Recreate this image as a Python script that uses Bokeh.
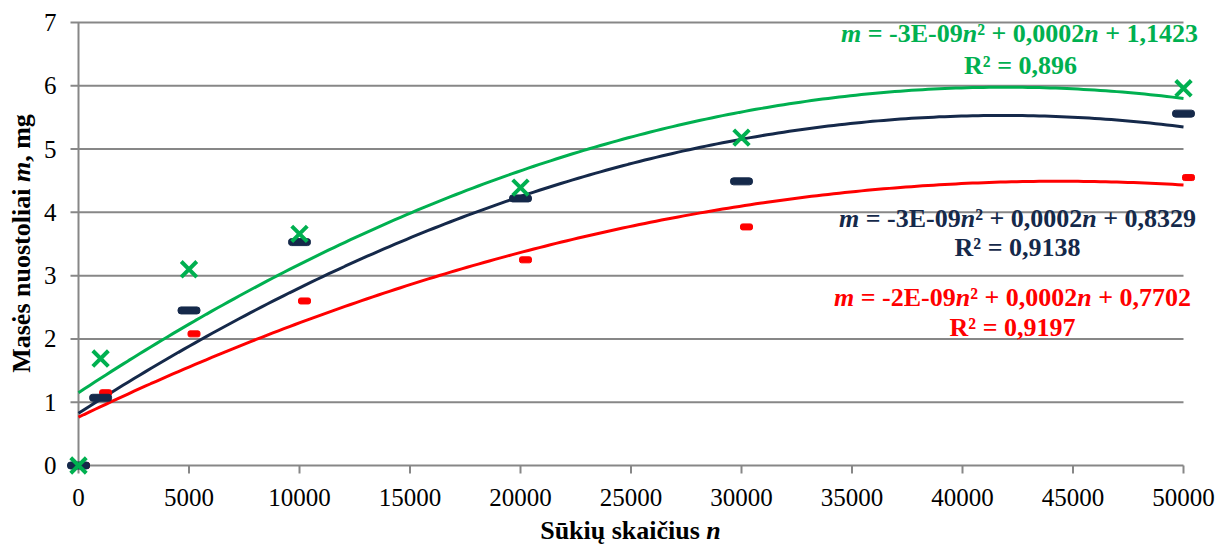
import numpy as np
from bokeh.plotting import figure
from bokeh.models import Range1d, Label, ColumnDataSource
from bokeh.transform import dodge
from bokeh.embed import file_html
from bokeh.resources import INLINE

# ---- data ----
n_vals = [0, 1000, 5000, 10000, 20000, 30000, 50000]
green_m = [0.0, 1.69, 3.10, 3.66, 4.39, 5.18, 5.96]
navy_m = [0.0, 1.07, 2.45, 3.53, 4.22, 4.49, 5.56]
red_m = [0.0, 1.15, 2.08, 2.60, 3.25, 3.77, 4.55]
x_ticks = [0, 5000, 10000, 15000, 20000, 25000, 30000, 35000, 40000, 45000, 50000]
y_ticks = [0, 1, 2, 3, 4, 5, 6, 7]
x_tick_labels = [str(t) for t in x_ticks]
y_tick_labels = [str(t) for t in y_ticks]

eq_green = [[("m", True), (" = -3E-09", False), ("n", True), ("² + 0,0002", False), ("n", True), (" + 1,1423", False)],
            [("R² = 0,896", False)]]
eq_navy = [[("m", True), (" = -3E-09", False), ("n", True), ("² + 0,0002", False), ("n", True), (" + 0,8329", False)],
           [("R² = 0,9138", False)]]
eq_red = [[("m", True), (" = -2E-09", False), ("n", True), ("² + 0,0002", False), ("n", True), (" + 0,7702", False)],
          [("R² = 0,9197", False)]]
x_title = [("Sūkių skaičius ", False), ("n", True)]
y_title = [("Masės nuostoliai ", False), ("m", True), (", mg", False)]

GREEN = "#00B050"
NAVY = "#15294A"
RED = "#FF0000"
GRID = "#878787"
SERIF = "Liberation Serif"

# ---- geometry (pixels) ----
W, H = 1220, 548
FL, FR, FT, FB = 78, 1183, 22, 465      # plot area edges
X0, X1, Y0, Y1 = 0, 50000, 0, 7
xpp = (FR - FL) / (X1 - X0)             # px per data unit
ypp = (FB - FT) / (Y1 - Y0)

p = figure(width=W, height=H, output_backend="svg", toolbar_location=None,
           x_range=Range1d(X0 - FL / xpp, X1 + (W - FR) / xpp),
           y_range=Range1d(Y0 - (H - FB) / ypp, Y1 + FT / ypp),
           min_border=0)
p.axis.visible = False
p.grid.visible = False
p.outline_line_color = None
p.background_fill_color = "white"
p.border_fill_color = "white"

# gridlines + y tick marks
p.segment(x0=[X0 - 8 / xpp] * len(y_ticks), x1=[X1] * len(y_ticks), y0=y_ticks, y1=y_ticks,
          line_color=GRID, line_width=2)
# y axis line
p.segment(x0=[X0], x1=[X0], y0=[Y0], y1=[Y1], line_color=GRID, line_width=2)
# x tick marks
p.segment(x0=x_ticks, x1=x_ticks, y0=[Y0] * len(x_ticks), y1=[Y0 - 8 / ypp] * len(x_ticks),
          line_color=GRID, line_width=2)

# tick labels
p.text(x=x_ticks, y=[Y0] * len(x_ticks), text=x_tick_labels, y_offset=32,
       text_font="Liberation Serif", text_font_size="25px", text_color="black",
       text_align="center", text_baseline="middle")
p.text(x=[X0] * len(y_ticks), y=y_ticks, text=y_tick_labels, x_offset=-22,
       text_font="Liberation Serif", text_font_size="25px", text_color="black",
       text_align="right", text_baseline="middle")

# trendlines (2nd order polynomial fits of the series)
xs = np.linspace(X0, X1, 200)
for ys, col in ((red_m, RED), (navy_m, NAVY), (green_m, GREEN)):
    coef = np.polyfit(n_vals, ys, 2)
    p.line(xs, np.polyval(coef, xs), line_color=col, line_width=3)

# markers (red drawn first, then navy, then green)
src = ColumnDataSource(dict(n=n_vals, g=green_m, b=navy_m, r=red_m))
p.rect(x=dodge("n", 5 / xpp, range=p.x_range), y="r", width=12, height=6,
       width_units="screen", height_units="screen",
       source=src, fill_color=RED, line_color=RED, border_radius=2)
p.rect(x="n", y="b", width=22, height=7, width_units="screen", height_units="screen",
       source=src, fill_color=NAVY, line_color=NAVY, border_radius=3)
p.scatter(x="n", y="g", marker="x", size=22, line_width=4, line_color=GREEN, source=src)

# ---- rich text (bold, with italic variables) ----
BOLD_W = {" ": 250, ",": 250, "-": 333, "=": 570, "+": 570, "E": 667, "M": 944, "R": 722,
          "S": 556, "a": 500, "c": 444, "g": 500, "i": 278, "k": 556, "l": 278, "m": 833,
          "n": 556, "o": 500, "s": 389, "t": 333, "u": 556, "ū": 556, "ų": 556, "č": 444,
          "ė": 444, "²": 300}
ITAL_W = {"m": 778, "n": 556}


def seg_width(txt, italic, size):
    tbl = ITAL_W if italic else BOLD_W
    return sum(tbl.get(c, 500) for c in txt) * size / 1000.0


def rich(segments, cx, cy, size, color, vertical=False):
    total = sum(seg_width(t, it, size) for t, it in segments)
    off = -total / 2.0
    for txt, italic in segments:
        lead = len(txt) - len(txt.lstrip(" "))
        body = txt.strip(" ")
        off += seg_width(" " * lead, False, size)
        if vertical:
            kw = dict(x=cx, y=(H - cy) + off, angle=np.pi / 2)
        else:
            kw = dict(x=cx + off, y=H - cy)
        p.add_layout(Label(x_units="screen", y_units="screen", text=body,
                           text_font=SERIF,
                           text_font_style="bold italic" if italic else "bold",
                           text_font_size=f"{size}px", text_color=color,
                           text_align="left", text_baseline="middle", **kw))
        off += seg_width(body, italic, size)
        off += seg_width(" " * (len(txt) - lead - len(body)), False, size)


EQ = 26
rich(eq_green[0], 1019, 33, EQ, GREEN)
rich(eq_green[1], 1020, 65, EQ, GREEN)
rich(eq_navy[0], 1017, 218, EQ, NAVY)
rich(eq_navy[1], 1017, 247, EQ, NAVY)
rich(eq_red[0], 1012, 297, EQ, RED)
rich(eq_red[1], 1012, 327, EQ, RED)

rich(x_title, 630, 530, 26, "black")
rich(y_title, 21, 243, 26, "black", vertical=True)

open("out.html", "w").write(file_html(p, INLINE))
